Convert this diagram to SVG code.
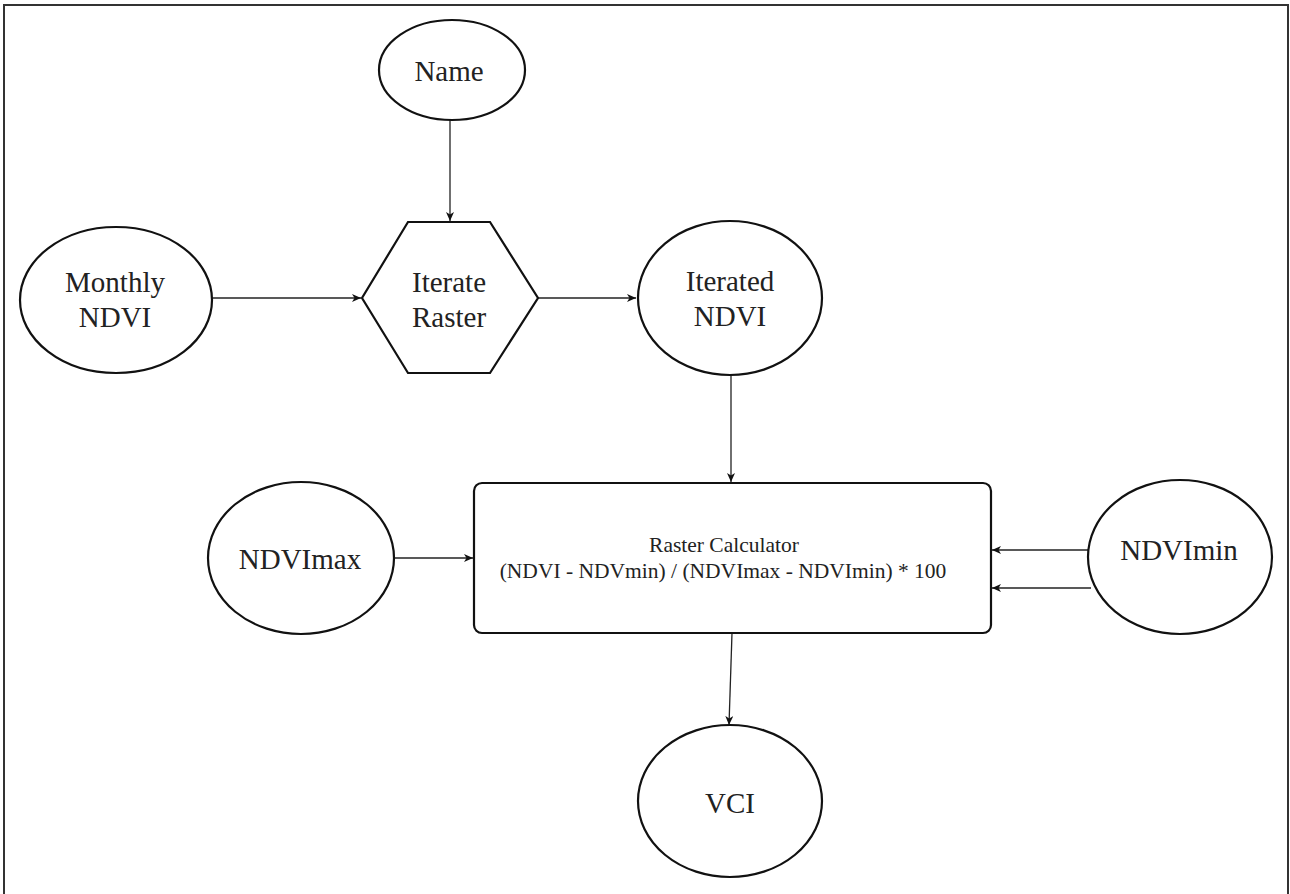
<svg xmlns="http://www.w3.org/2000/svg" width="1290" height="894" viewBox="0 0 1290 894">
<style>
.shape{fill:#fff;stroke:#111;stroke-width:2.2}
.lbl{font-family:"Liberation Serif","Times New Roman",serif;font-size:29px;fill:#222;text-anchor:middle}
.small{font-size:21.5px}
.conn{stroke:#222;stroke-width:1.3;fill:none;marker-end:url(#arr)}
</style>
<defs>
<marker id="arr" markerWidth="10" markerHeight="10" refX="9" refY="4" orient="auto" markerUnits="userSpaceOnUse">
<path d="M0,0 L9,4 L0,8 L2.5,4 Z" fill="#111"/>
</marker>
</defs>
<rect width="1290" height="894" fill="#fff"/>
<path d="M4,894 V5 H1288 V894" fill="none" stroke="#333" stroke-width="2"/>
<g id="connectors">
<line class="conn" x1="450" y1="120" x2="450" y2="221"/>
<line class="conn" x1="212" y1="298" x2="361" y2="298"/>
<line class="conn" x1="538" y1="298" x2="636" y2="298"/>
<line class="conn" x1="731" y1="375" x2="731" y2="482"/>
<line class="conn" x1="393" y1="558" x2="473" y2="558"/>
<line class="conn" x1="1088" y1="550" x2="992" y2="550"/>
<line class="conn" x1="1091" y1="588" x2="992" y2="588"/>
<line class="conn" x1="732" y1="633" x2="729" y2="725"/>
</g>
<g id="node-name">
<ellipse class="shape" cx="452" cy="70" rx="73" ry="50"/>
<text class="lbl" x="449" y="81">Name</text>
</g>
<g id="node-monthly">
<ellipse class="shape" cx="116" cy="300" rx="96" ry="73"/>
<text class="lbl" x="115" y="292">Monthly</text>
<text class="lbl" x="115" y="327">NDVI</text>
</g>
<g id="node-iterate">
<polygon class="shape" points="408,222 490,222 538,298 490,373 408,373 362,298"/>
<text class="lbl" x="449" y="292">Iterate</text>
<text class="lbl" x="449" y="327">Raster</text>
</g>
<g id="node-iterated">
<ellipse class="shape" cx="730" cy="298" rx="92" ry="77"/>
<text class="lbl" x="730" y="291">Iterated</text>
<text class="lbl" x="730" y="326">NDVI</text>
</g>
<g id="node-calc">
<rect class="shape" x="474" y="483" width="517" height="150" rx="8"/>
<text class="lbl small" x="724" y="552">Raster Calculator</text>
<text class="lbl small" x="723" y="578">(NDVI - NDVmin) / (NDVImax - NDVImin) * 100</text>
</g>
<g id="node-ndvimax">
<ellipse class="shape" cx="301" cy="558" rx="93" ry="76"/>
<text class="lbl" x="300" y="569">NDVImax</text>
</g>
<g id="node-ndvimin">
<ellipse class="shape" cx="1180" cy="557" rx="92" ry="77"/>
<text class="lbl" x="1179" y="560">NDVImin</text>
</g>
<g id="node-vci">
<ellipse class="shape" cx="730" cy="801" rx="92" ry="76"/>
<text class="lbl" x="730" y="813">VCI</text>
</g>
</svg>
